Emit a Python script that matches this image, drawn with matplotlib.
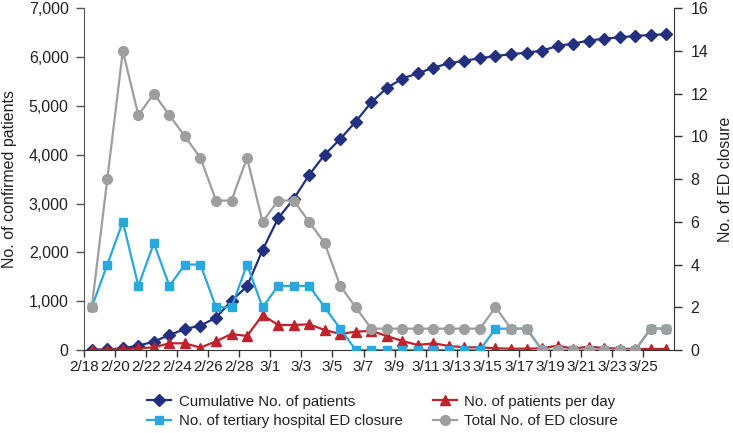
import matplotlib
matplotlib.use("Agg")
import matplotlib.pyplot as plt
import numpy as np

plt.rcParams["font.family"] = ["Liberation Sans", "DejaVu Sans"]

# ── data ─────────────────────────────────────────────────────────────────────
dates = ["2/18", "2/19", "2/20", "2/21", "2/22", "2/23", "2/24", "2/25", "2/26",
         "2/27", "2/28", "2/29", "3/1", "3/2", "3/3", "3/4", "3/5", "3/6", "3/7",
         "3/8", "3/9", "3/10", "3/11", "3/12", "3/13", "3/14", "3/15", "3/16",
         "3/17", "3/18", "3/19", "3/20", "3/21", "3/22", "3/23", "3/24", "3/25",
         "3/26"]
cumulative = [1, 11, 34, 89, 171, 307, 430, 499, 663, 1011, 1305, 2049, 2698,
              3094, 3586, 4003, 4324, 4679, 5075, 5369, 5560, 5669, 5785, 5874,
              5929, 5977, 6025, 6059, 6093, 6134, 6230, 6277, 6339, 6380, 6407,
              6434, 6455, 6468]
per_day = [0, 10, 14, 34, 55, 137, 137, 48, 178, 328, 287, 717, 512, 512, 526,
           410, 328, 376, 390, 287, 184, 102, 137, 82, 55, 55, 34, 27, 27, 34,
           89, 27, 68, 41, 27, 20, 20, 20]
tertiary_closure = [2, 4, 6, 3, 5, 3, 4, 4, 2, 2, 4, 2, 3, 3, 3, 2, 1, 0, 0, 0,
                    0, 0, 0, 0, 0, 0, 1, 1, 1, 0, 0, 0, 0, 0, 0, 0, 1, 1]
total_closure = [2, 8, 14, 11, 12, 11, 10, 9, 7, 7, 9, 6, 7, 7, 6, 5, 3, 2, 1, 1,
                 1, 1, 1, 1, 1, 1, 2, 1, 1, 0, 0, 0, 0, 0, 0, 0, 1, 1]
tick_labels = dates[:-1:2]

NAVY, RED, BLUE, GRAY = "#22307f", "#c0222b", "#29a8dd", "#9e9e9e"

x = np.arange(len(dates))

fig = plt.figure(figsize=(7.33, 4.33), dpi=100)
ax = fig.add_axes([0.1146, 0.1917, 0.805, 0.789])
ax2 = ax.twinx()

l1, = ax.plot(x, cumulative, color=NAVY, lw=1.6, marker="D", ms=6,
              label="Cumulative No. of patients")
l2, = ax.plot(x, per_day, color=RED, lw=1.6, marker="^", ms=7,
              label="No. of patients per day")
l3, = ax2.plot(x, tertiary_closure, color=BLUE, lw=1.6, marker="s", ms=6,
               label="No. of tertiary hospital ED closure")
l4, = ax2.plot(x, total_closure, color=GRAY, lw=1.6, marker="o", ms=7,
               label="Total No. of ED closure")

ax.set_xlim(-0.5, len(dates) - 0.5)
ax.set_ylim(0, 7000)
ax2.set_ylim(0, 16)
ax.set_yticks(np.arange(0, 7001, 1000))
ax.set_yticklabels([f"{v:,}" for v in range(0, 7001, 1000)])
ax2.set_yticks(np.arange(0, 17, 2))
ax.set_xticks(np.arange(len(tick_labels)) * 2 - 0.5)
ax.set_xticklabels(tick_labels)

for a in (ax, ax2):
    a.spines["top"].set_visible(False)
    a.patch.set_visible(False)
ax2.spines["left"].set_visible(False)
ax2.spines["bottom"].set_visible(False)
ax.spines["right"].set_visible(False)
ax.spines["left"].set_color("#555555")
ax.spines["bottom"].set_color("#333333")
ax2.spines["right"].set_color("#333333")

ax.tick_params(axis="y", length=6, width=1, color="#555555", labelsize=11.5,
               pad=5, labelcolor="#222222")
ax.tick_params(axis="x", length=5, width=1, color="#333333", labelsize=11,
               pad=2, labelcolor="#222222")
ax2.tick_params(axis="y", length=6, width=1, color="#333333", labelsize=11.5,
                pad=6, labelcolor="#222222")

ax.set_ylabel("No. of confirmed patients", fontsize=11.5, color="#222222")
ax.yaxis.set_label_coords(-0.1136, 0.5)
ax2.set_ylabel("No. of ED closure", fontsize=11.5, color="#222222")
ax2.yaxis.set_label_coords(1.0746, 0.5)

fig.legend([l1, l3, l2, l4], [h.get_label() for h in (l1, l3, l2, l4)],
           ncol=2, loc="center", bbox_to_anchor=(0.522, 0.05), frameon=False,
           fontsize=10.8, handlelength=1.6, columnspacing=2.0,
           labelspacing=0.35, handletextpad=0.5, labelcolor="#222222")

fig.savefig("out.png", dpi=100)
